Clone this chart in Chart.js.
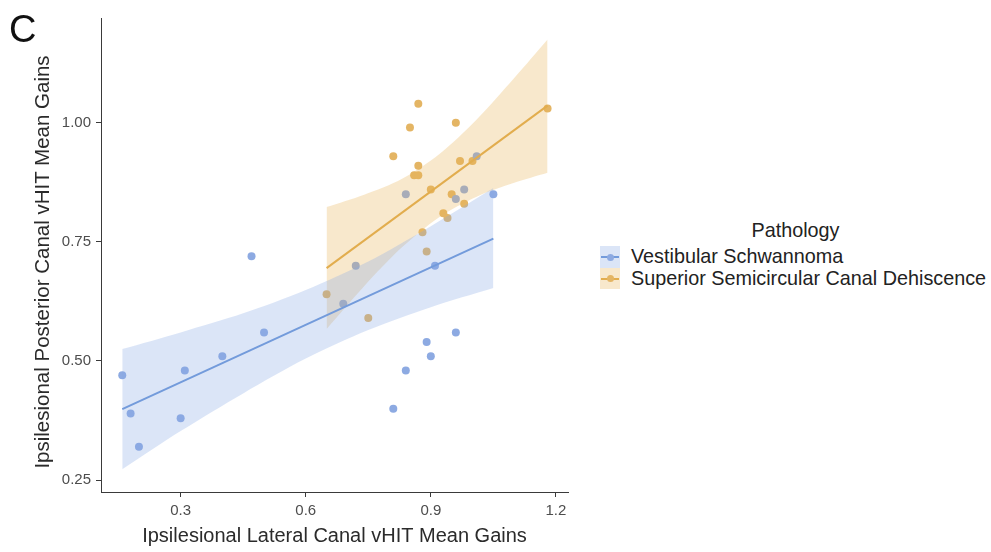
<!DOCTYPE html>
<html lang="en">
<head>
<meta charset="UTF-8">
<title>Posterior vs Lateral Canal vHIT Gains</title>
<style>
    body {
        margin: 0;
        background: #fff;
        font-family: 'Liberation Sans', Arial, sans-serif;
    }
    #wrap { position: relative; width: 991px; height: 552px; }
    #chart-box { position: absolute; left: 0; top: 0; width: 580px; height: 552px; }
    #panel { position: absolute; left: 9px; top: 10px; font-size: 38px; line-height: 38px; color: #111; }
    #ytitle {
        position: absolute; left: 42px; top: 262px;
        transform: translate(-50%, -50%) rotate(-90deg);
        white-space: nowrap; font-size: 20.5px; line-height: 24px; color: #2b2b2b;
    }
    #legend { position: absolute; left: 600px; top: 218px; width: 391px; color: #222; }
    #legend .title { text-align: center; font-size: 19.8px; line-height: 24px; margin-bottom: 4px; }
    #legend .row { display: flex; align-items: center; height: 21.5px; }
    #legend .key { position: relative; width: 20px; height: 21.5px; }
    #legend .key .ln { position: absolute; left: 1px; right: 1px; top: 10px; height: 2px; }
    #legend .key .dot { position: absolute; left: 6.5px; top: 7.5px; width: 7px; height: 7px; border-radius: 50%; }
    #legend .txt { margin-left: 11px; font-size: 19.8px; white-space: nowrap; }
</style>
<script src="https://cdn.jsdelivr.net/npm/chart.js"></script>
</head>
<body>
<div id="wrap">
    <div id="chart-box"><canvas id="chart"></canvas></div>
    <div id="panel">C</div>
    <div id="ytitle">Ipsilesional Posterior Canal vHIT Mean Gains</div>
    <div id="legend">
        <div class="title">Pathology</div>
        <div class="row">
            <div class="key" style="background: rgba(135,168,228,0.3)">
                <div class="ln" style="background: rgb(115,155,219)"></div>
                <div class="dot" style="background: rgb(141,170,226)"></div>
            </div>
            <div class="txt">Vestibular Schwannoma</div>
        </div>
        <div class="row">
            <div class="key" style="background: rgba(232,178,85,0.3)">
                <div class="ln" style="background: rgb(226,173,78)"></div>
                <div class="dot" style="background: rgb(228,181,100)"></div>
            </div>
            <div class="txt">Superior Semicircular Canal Dehiscence</div>
        </div>
    </div>
</div>

<script>
// Vestibular Schwannoma (lateral gain, posterior gain)
const vsX = [0.16, 0.18, 0.20, 0.30, 0.31, 0.40, 0.47, 0.50, 0.69, 0.72, 0.81, 0.84, 0.84, 0.89, 0.90, 0.91, 0.96, 0.96, 0.98, 1.01, 1.05];
const vsY = [0.47, 0.39, 0.32, 0.38, 0.48, 0.51, 0.72, 0.56, 0.62, 0.70, 0.40, 0.48, 0.85, 0.54, 0.51, 0.70, 0.56, 0.84, 0.86, 0.93, 0.85];

// Superior Semicircular Canal Dehiscence
const sscdX = [0.87, 0.85, 0.96, 0.81, 0.87, 0.86, 0.87, 0.97, 1.00, 0.90, 0.95, 0.98, 0.93, 0.94, 0.88, 0.89, 1.18, 0.65, 0.75];
const sscdY = [1.04, 0.99, 1.00, 0.93, 0.91, 0.89, 0.89, 0.92, 0.92, 0.86, 0.85, 0.83, 0.81, 0.80, 0.77, 0.73, 1.03, 0.64, 0.59];

// fitted lines
const vsFitX = [0.16, 1.05];
const vsFitY = [0.399, 0.757];
const sscdFitX = [0.65, 1.18];
const sscdFitY = [0.695, 1.036];

// confidence ribbons, edges read at a few x positions
const vsBandX  = [0.16, 0.30, 0.45, 0.60, 0.75, 0.90, 1.05];
const vsBandLo = [0.273, 0.353, 0.432, 0.505, 0.565, 0.613, 0.653];
const vsBandHi = [0.525, 0.560, 0.600, 0.649, 0.709, 0.783, 0.863];
const sscdBandX  = [0.65, 0.74, 0.83, 0.92, 1.01, 1.10, 1.18];
const sscdBandLo = [0.567, 0.657, 0.738, 0.802, 0.845, 0.874, 0.895];
const sscdBandHi = [0.823, 0.849, 0.882, 0.934, 1.007, 1.094, 1.175];

const xTicks = [0.3, 0.6, 0.9, 1.2];
const yTicks = [0.25, 0.50, 0.75, 1.00];

function pts(xs, ys) {
    return xs.map((x, i) => ({ x: x, y: ys[i] }));
}

const blue = { point: 'rgb(141,170,226)', line: 'rgb(115,155,219)', fill: 'rgba(135,168,228,0.3)' };
const orange = { point: 'rgb(228,181,100)', line: 'rgb(226,173,78)', fill: 'rgba(232,178,85,0.3)' };

function pointSet(xs, ys, c) {
    return { data: pts(xs, ys), showLine: false, pointRadius: 4, pointBorderWidth: 0,
             pointBackgroundColor: c.point, order: 2 };
}
function bandLow(xs, lo) {
    return { data: pts(xs, lo), borderColor: 'transparent', borderWidth: 0, pointRadius: 0,
             fill: false, tension: 0.3, order: 1 };
}
function bandHigh(xs, hi, c) {
    return { data: pts(xs, hi), borderColor: 'transparent', borderWidth: 0, pointRadius: 0,
             fill: '-1', backgroundColor: c.fill, tension: 0.3, order: 1 };
}
function fitLine(xs, ys, c) {
    return { data: pts(xs, ys), borderColor: c.line, borderWidth: 2, pointRadius: 0,
             fill: false, order: 0 };
}

const axisColor = '#3a3a3a';
const tickColor = '#4d4d4d';

new Chart(document.getElementById('chart'), {
    type: 'line',
    data: {
        datasets: [
            pointSet(vsX, vsY, blue),
            pointSet(sscdX, sscdY, orange),
            bandLow(vsBandX, vsBandLo),
            bandHigh(vsBandX, vsBandHi, blue),
            bandLow(sscdBandX, sscdBandLo),
            bandHigh(sscdBandX, sscdBandHi, orange),
            fitLine(vsFitX, vsFitY, blue),
            fitLine(sscdFitX, sscdFitY, orange)
        ]
    },
    options: {
        responsive: true,
        maintainAspectRatio: false,
        animation: false,
        layout: { padding: { top: 18, right: 12, left: 0, bottom: 0 }, autoPadding: false },
        plugins: { legend: { display: false }, tooltip: { enabled: false } },
        scales: {
            x: {
                type: 'linear',
                min: 0.109, max: 1.229,
                afterBuildTicks: s => { s.ticks = xTicks.map(v => ({ value: v })); },
                afterFit: s => { s.height = 60; },
                grid: { drawOnChartArea: false, drawTicks: true, tickLength: 5, color: axisColor },
                border: { display: true, color: axisColor, width: 1 },
                ticks: { color: tickColor, font: { size: 15 }, padding: 5,
                         callback: v => Number(v).toFixed(1) },
                title: { display: true, text: 'Ipsilesional Lateral Canal vHIT Mean Gains',
                         color: '#2b2b2b', font: { size: 20 }, padding: { top: 0, bottom: 4 } }
            },
            y: {
                min: 0.225, max: 1.22,
                afterBuildTicks: s => { s.ticks = yTicks.map(v => ({ value: v })); },
                afterFit: s => { s.width = 101; },
                grid: { drawOnChartArea: false, drawTicks: true, tickLength: 5, color: axisColor },
                border: { display: true, color: axisColor, width: 1 },
                ticks: { color: tickColor, font: { size: 15 }, padding: 5,
                         callback: v => Number(v).toFixed(2) }
            }
        }
    }
});
</script>
</body>
</html>
